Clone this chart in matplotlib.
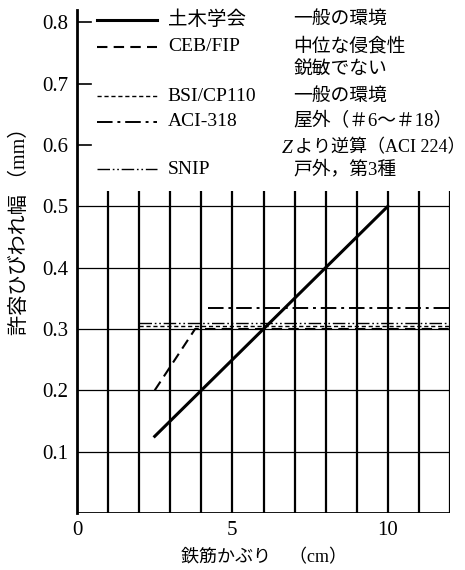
import matplotlib
matplotlib.use("Agg")
import matplotlib.pyplot as plt

plt.rcParams['font.family'] = ['Liberation Serif', 'Noto Sans CJK JP']

# ---- data ----
doboku_x = [2.5, 10.0]
doboku_y = [0.125, 0.5]
ceb_x = [2.5, 3.8, 12.0]
ceb_y = [0.2, 0.3, 0.3]
bsi_x = [2.0, 12.0]
bsi_y = [0.305, 0.305]
aci_x = [4.2, 12.0]
aci_y = [0.335, 0.335]
snip_x = [2.0, 12.0]
snip_y = [0.31, 0.31]

legend_names = ['土木学会', 'CEB/FIP', 'BSI/CP110', 'ACI-318', 'SNIP']
legend_rows = [0.804, 0.760, 0.679, 0.638, 0.560]
desc_texts = ['一般の環境', '中位な侵食性', '鋭敏でない', '一般の環境',
              '屋外（＃6～＃18）', 'より逆算（ACI 224）', '戸外，第3種']
desc_rows = [0.804, 0.760, 0.723, 0.679, 0.638, 0.595, 0.560]

yticks = [0.1, 0.2, 0.3, 0.4, 0.5, 0.6, 0.7, 0.8]
ytick_labels = ['0.1', '0.2', '0.3', '0.4', '0.5', '0.6', '0.7', '0.8']
xticks = [0, 5, 10]
xtick_labels = ['0', '5', '10']
grid_x = list(range(1, 13))
grid_y = [0.1, 0.2, 0.3, 0.4, 0.5]

fig = plt.figure(figsize=(4.65, 5.70), dpi=100)
ax = fig.add_axes([77/465, 1-513/570, 373/465, 503/570])
ax.set_xlim(0, 12)
ax.set_ylim(0, 0.82)
for s in ['top', 'right', 'bottom']:
    ax.spines[s].set_visible(False)
ax.spines['left'].set_linewidth(2.0)

# grid
for gx in grid_x:
    ax.plot([gx, gx], [0, 0.525], color='black', lw=1.6, solid_capstyle='butt')
for gy in grid_y:
    ax.plot([0, 12], [gy, gy], color='black', lw=0.9)
ax.plot([0, 12], [0, 0], color='black', lw=2.0)

# short ticks above grid
for ty in [0.6, 0.7, 0.8]:
    ax.plot([0, 0.45], [ty, ty], color='black', lw=1.2)

ax.set_yticks(yticks)
ax.set_yticklabels(ytick_labels, fontsize=15)
ax.set_xticks(xticks)
ax.set_xticklabels(xtick_labels, fontsize=15)
ax.tick_params(axis='both', length=0, pad=6)

styles = [
    dict(color='black', lw=2.2, linestyle='-'),
    dict(color='black', lw=1.5, linestyle=(0, (5, 3))),
    dict(color='black', lw=1.0, linestyle=(0, (3, 2))),
    dict(color='black', lw=1.4, linestyle=(0, (8, 2.5, 1.5, 2.5))),
    dict(color='black', lw=1.0, linestyle=(0, (9, 2, 1.2, 2, 1.2, 2))),
]
series = [(doboku_x, doboku_y), (ceb_x, ceb_y), (bsi_x, bsi_y),
          (aci_x, aci_y), (snip_x, snip_y)]
for (sx, sy), st in zip(series, styles):
    ax.plot(sx, sy, **st)

# legend block
for name, ry, st in zip(legend_names, legend_rows, styles):
    ax.plot([0.65, 2.58], [ry, ry], **st)
    ax.text(2.92, ry, name, fontsize=14, va='center', ha='left')
for i, (d, ry) in enumerate(zip(desc_texts, desc_rows)):
    if i == 5:
        ax.text(6.6, ry, 'Z', fontsize=14, style='italic', va='center', ha='left')
        ax.text(7.0, ry, d, fontsize=13, va='center', ha='left')
    else:
        ax.text(6.97, ry, d, fontsize=13.5, va='center', ha='left')

ax.set_ylabel('許容ひびわれ幅 （mm）', fontsize=14.5)
ax.yaxis.set_label_coords(-0.125, 0.57)
ax.set_xlabel('鉄筋かぶり　（cm）', fontsize=13, labelpad=6)

fig.savefig('out.png', dpi=100)
